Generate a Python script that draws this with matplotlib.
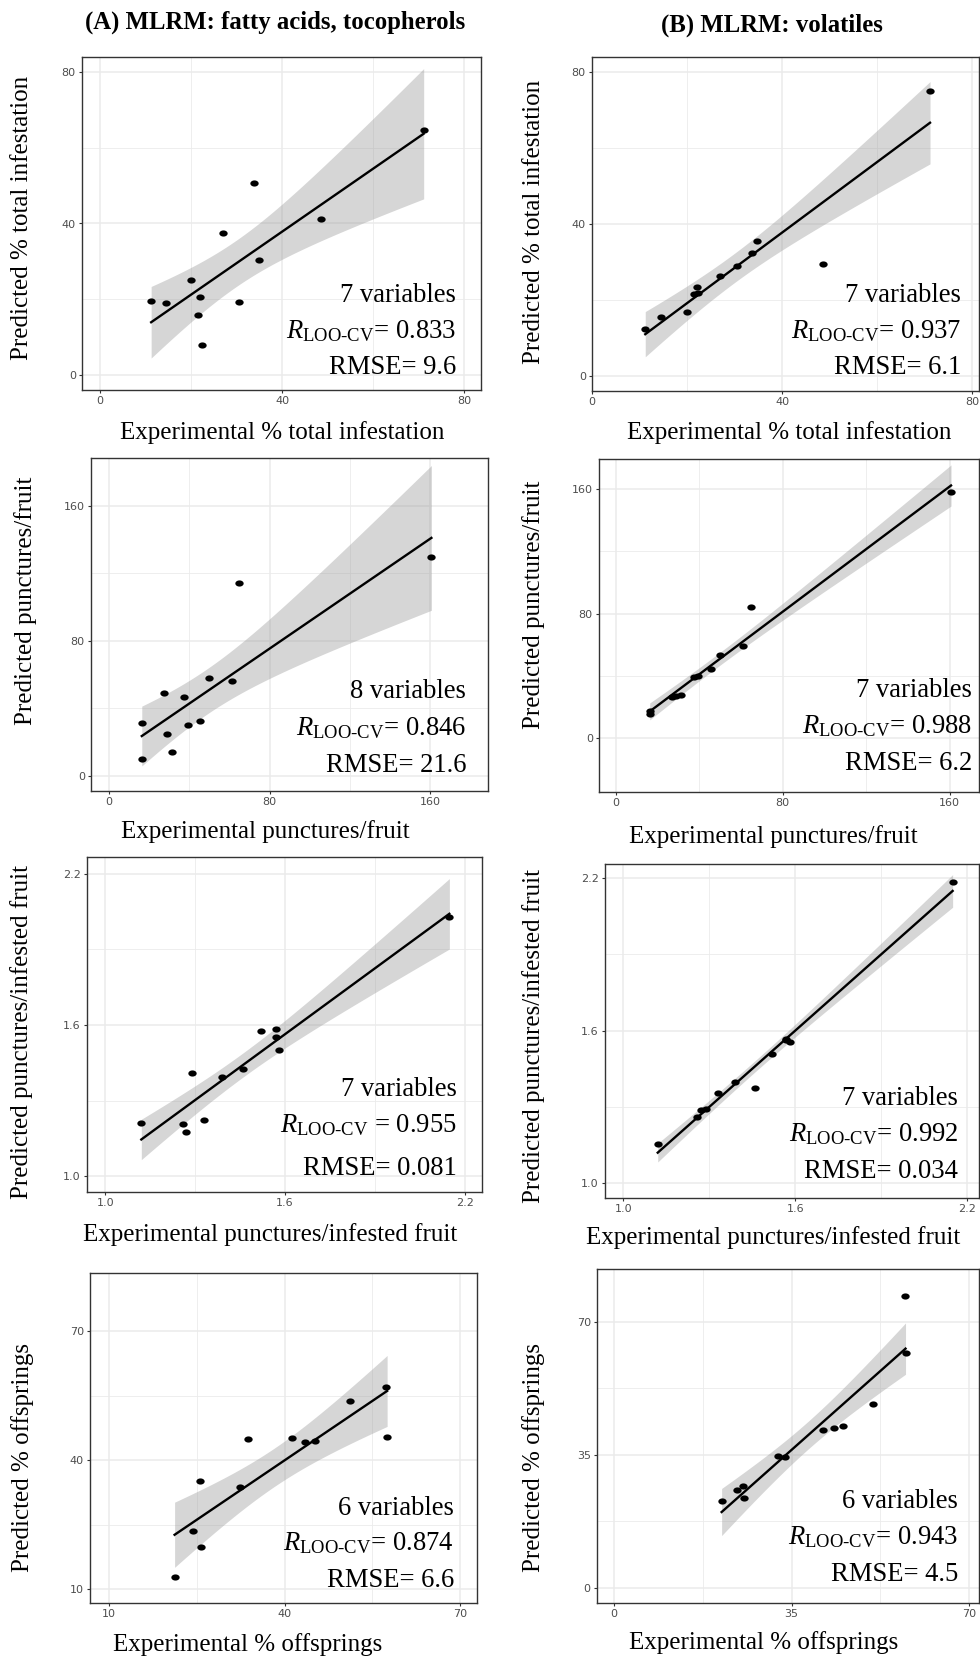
import numpy as np
import matplotlib
matplotlib.use('Agg')
import matplotlib.pyplot as plt

plt.rcParams['font.family'] = ['Liberation Serif', 'DejaVu Serif']
plt.rcParams['mathtext.fontset'] = 'custom'
plt.rcParams['mathtext.rm'] = 'Liberation Serif'
plt.rcParams['mathtext.it'] = 'Liberation Serif:italic'

# ---- data ----
# row 1: % total infestation
inf_exp = [11.2, 14.5, 19.9, 21.5, 22.0, 22.3, 27.0, 30.5, 33.7, 34.8, 48.5, 71.1]
inf_pred_A = [19.6, 19.1, 25.0, 15.8, 20.5, 8.0, 37.6, 19.3, 50.6, 30.4, 41.3, 64.8]
inf_pred_B = [12.2, 15.4, 16.9, 21.5, 23.4, 21.8, 26.2, 28.9, 32.2, 35.4, 29.3, 75.0]

# row 2: punctures/fruit
punc_exp = [16.3, 16.6, 27.2, 29.1, 31.4, 37.5, 39.5, 45.5, 50.0, 61.1, 64.6, 160.6]
punc_pred_A = [31.1, 9.9, 49.2, 24.7, 14.0, 46.5, 29.9, 32.8, 57.9, 56.0, 114.3, 129.5]
punc_pred_B = [15.7, 17.2, 26.4, 26.8, 27.5, 39.2, 39.7, 44.2, 53.6, 59.0, 83.9, 157.9]

# row 3: punctures/infested fruit
ppif_exp = [1.120, 1.258, 1.270, 1.288, 1.330, 1.390, 1.459, 1.519, 1.569, 1.569, 1.580, 2.149]
ppif_pred_A = [1.210, 1.206, 1.174, 1.410, 1.223, 1.395, 1.426, 1.575, 1.584, 1.554, 1.500, 2.028]
ppif_pred_B = [1.155, 1.260, 1.287, 1.293, 1.356, 1.396, 1.373, 1.509, 1.563, 1.566, 1.557, 2.186]

# row 4: % offsprings
off_exp = [21.2, 24.3, 25.5, 25.7, 32.4, 33.8, 41.2, 43.4, 45.2, 51.1, 57.3, 57.5]
off_pred_A = [12.8, 23.5, 35.1, 19.7, 33.8, 44.8, 45.2, 44.1, 44.5, 53.7, 57.0, 45.4]
off_pred_B = [22.9, 25.8, 26.8, 23.6, 34.7, 34.5, 41.4, 42.1, 42.7, 48.3, 76.6, 61.8]

xlabels = ['Experimental % total infestation', 'Experimental punctures/fruit',
           'Experimental punctures/infested fruit', 'Experimental % offsprings']
ylabels = ['Predicted % total infestation', 'Predicted punctures/fruit',
           'Predicted punctures/infested fruit', 'Predicted % offsprings']

n_vars = [['7', '8', '7', '6'], ['7', '7', '7', '6']]
r_loo = [['= 0.833', '= 0.846', ' = 0.955', '= 0.874'], ['= 0.937', '= 0.988', '= 0.992', '= 0.943']]
rmse = [['9.6', '21.6', '0.081', '6.6'], ['6.1', '6.2', '0.034', '4.5']]

major_ticks = [[0, 40, 80], [0, 80, 160], [1.0, 1.6, 2.2], [10, 40, 70]]
minor_ticks = [[20, 60], [40, 120], [1.3, 1.9], [25, 55]]
tick_fmt = ['%d', '%d', '%.1f', '%d']
major_ticks_B4 = [0, 35, 70]
minor_ticks_B4 = [17.5, 52.5]

col_titles = ['(A) MLRM: fatty acids, tocopherols', '(B) MLRM: volatiles']

T975 = 2.228  # t quantile, df = 10
R_LABEL = '$\\mathit{R}_{\\mathrm{LOO\u2010CV}}$'

# ---- layout in pixels (980 x 1659) ----
W, H = 980, 1659
boxes = [[(82, 57, 481, 390), (592, 57, 979, 391)],
         [(91, 458, 488, 791), (599, 459, 979, 792)],
         [(87, 857, 482, 1192), (605, 864, 979, 1198)],
         [(90, 1273, 477, 1603), (597, 1269, 979, 1603)]]
xlims = [[(-4, 83.7), (6.5, 81.4)], [(-9, 188.8), (-8, 174)],
         [(0.9386, 2.258), (0.936, 2.241)], [(6.75, 72.85), (-3.4, 72)]]
ylims = [[(-4, 84), (-4, 83.9)], [(-8.9, 188.3), (-34.7, 179.3)],
         [(0.938, 2.266), (0.941, 2.256)], [(6.75, 83.5), (-3.9, 83.8)]]
# right edge x, baselines of the three annotation lines
ann = [[(456, 302, 338, 374), (961, 302, 338, 374)],
       [(466, 698, 735, 772), (972, 697, 733, 770)],
       [(457, 1096, 1132, 1175), (958, 1105, 1141, 1178)],
       [(454, 1515, 1550, 1587), (958, 1508, 1544, 1581)]]
ylab_pos = [[(22, 218), (534, 222)], [(26, 601), (534, 605)],
            [(22, 1032), (534, 1036)], [(23, 1457), (534, 1457)]]
xlab_pos = [[(282, 433), (789, 433)], [(265, 832), (773, 837)],
            [(270, 1235), (773, 1238)], [(248, 1645), (764, 1643)]]

rows = [(inf_exp, inf_pred_A, inf_pred_B), (punc_exp, punc_pred_A, punc_pred_B),
        (ppif_exp, ppif_pred_A, ppif_pred_B), (off_exp, off_pred_A, off_pred_B)]

t = np.linspace(0, 2 * np.pi, 40)
ell = np.column_stack([1.35 * np.cos(t), np.sin(t)])

fig = plt.figure(figsize=(9.8, 16.59), dpi=100)

for r in range(4):
    xs = np.array(rows[r][0])
    for c in range(2):
        ys = np.array(rows[r][1 + c])
        l, tp, rt, b = boxes[r][c]
        ax = fig.add_axes([l / W, 1 - b / H, (rt - l) / W, (b - tp) / H])

        # lm fit + 95% CI
        n = len(xs)
        b1, b0 = np.polyfit(xs, ys, 1)
        res = ys - (b0 + b1 * xs)
        s = np.sqrt(np.sum(res ** 2) / (n - 2))
        xm = xs.mean()
        sxx = np.sum((xs - xm) ** 2)
        xg = np.linspace(xs.min(), xs.max(), 100)
        yg = b0 + b1 * xg
        se = s * np.sqrt(1.0 / n + (xg - xm) ** 2 / sxx)
        ax.fill_between(xg, yg - T975 * se, yg + T975 * se, color='#999999', alpha=0.4,
                        lw=0, zorder=2)
        ax.plot(xg, yg, color='black', lw=1.7, zorder=3)
        ax.scatter(xs, ys, s=36, marker=ell, color='black', zorder=4, lw=0)

        ax.set_xlim(*xlims[r][c])
        ax.set_ylim(*ylims[r][c])
        if r == 3 and c == 1:
            mj, mn = major_ticks_B4, minor_ticks_B4
        else:
            mj, mn = major_ticks[r], minor_ticks[r]
        ax.set_xticks(mj)
        ax.set_yticks(mj)
        ax.set_xticks(mn, minor=True)
        ax.set_yticks(mn, minor=True)
        ax.set_xticklabels([tick_fmt[r] % v for v in mj])
        ax.set_yticklabels([tick_fmt[r] % v for v in mj])
        ax.grid(which='major', color='#EBEBEB', lw=1.1)
        ax.grid(which='minor', color='#EBEBEB', lw=0.6)
        ax.set_axisbelow(True)
        ax.tick_params(which='major', length=2.5, width=0.8, color='#333333',
                       labelcolor='#4D4D4D', labelsize=8, pad=2)
        ax.tick_params(which='minor', length=0)
        for lab in ax.get_xticklabels() + ax.get_yticklabels():
            lab.set_family(['DejaVu Sans'])
        for sp in ax.spines.values():
            sp.set_color('#333333')
            sp.set_linewidth(1.0)

        # axis labels
        xx, xy = xlab_pos[r][c]
        fig.text(xx / W, 1 - xy / H, xlabels[r],
                 ha='center', va='center', fontsize=18)
        yx, yy = ylab_pos[r][c]
        fig.text(yx / W, 1 - yy / H, ylabels[r], rotation=90,
                 ha='center', va='center', fontsize=18)

        # annotation
        ax_r, b1y, b2y, b3y = ann[r][c]
        fig.text(ax_r / W, 1 - b1y / H, n_vars[c][r] + ' variables',
                 ha='right', va='baseline', fontsize=19.2)
        fig.text(ax_r / W, 1 - b2y / H, R_LABEL + r_loo[c][r],
                 ha='right', va='baseline', fontsize=19.2)
        fig.text(ax_r / W, 1 - b3y / H, 'RMSE= ' + rmse[c][r],
                 ha='right', va='baseline', fontsize=19.2)

fig.text(275 / W, 1 - 29 / H, col_titles[0], ha='center', va='baseline',
         fontsize=17.8, fontweight='bold')
fig.text(772 / W, 1 - 32 / H, col_titles[1], ha='center', va='baseline',
         fontsize=17.8, fontweight='bold')

fig.savefig('out.png', dpi=100)
